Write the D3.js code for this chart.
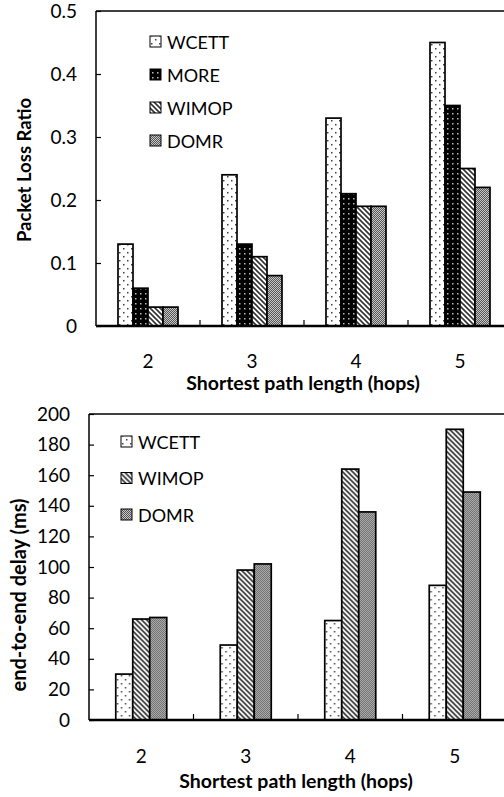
<!DOCTYPE html>
<html>
<head>
  <script src="https://d3js.org/d3.v7.min.js"></script>
  <style>
    body { margin: 0; background: #fff; }
    svg { display: block; font-family: Lato, "Open Sans", sans-serif; }
  </style>
</head>
<body>
  <div id="chart"></div>
  <script>
    // data
    const hops = ["2", "3", "4", "5"];

    const lossSeries = ["WCETT", "MORE", "WIMOP", "DOMR"];
    const lossWCETT = [0.13, 0.24, 0.33, 0.45];
    const lossMORE = [0.06, 0.13, 0.21, 0.35];
    const lossWIMOP = [0.03, 0.11, 0.19, 0.25];
    const lossDOMR = [0.03, 0.08, 0.19, 0.22];
    const lossTicks = [0, 0.1, 0.2, 0.3, 0.4, 0.5];

    const delaySeries = ["WCETT", "WIMOP", "DOMR"];
    const delayWCETT = [30, 49, 65, 88];
    const delayWIMOP = [66, 98, 164, 190];
    const delayDOMR = [67, 102, 136, 149];
    const delayTicks = [0, 20, 40, 60, 80, 100, 120, 140, 160, 180, 200];

    const svg = d3.select("#chart").append("svg")
      .attr("width", 504)
      .attr("height", 797);

    // fill patterns for each series
    const defs = svg.append("defs");

    const pDots = defs.append("pattern").attr("id", "pat-WCETT")
      .attr("patternUnits", "userSpaceOnUse").attr("width", 8).attr("height", 8);
    pDots.append("rect").attr("width", 8).attr("height", 8).attr("fill", "#fff");
    pDots.append("rect").attr("x", 1).attr("y", 1).attr("width", 1.5).attr("height", 1.5).attr("fill", "#444");
    pDots.append("rect").attr("x", 5).attr("y", 5).attr("width", 1.5).attr("height", 1.5).attr("fill", "#444");

    const pMore = defs.append("pattern").attr("id", "pat-MORE")
      .attr("patternUnits", "userSpaceOnUse").attr("width", 5).attr("height", 5);
    pMore.append("rect").attr("width", 5).attr("height", 5).attr("fill", "#000");
    pMore.append("rect").attr("x", 2).attr("y", 2).attr("width", 1.5).attr("height", 1.5).attr("fill", "#bbb");

    const pStripe = defs.append("pattern").attr("id", "pat-WIMOP")
      .attr("patternUnits", "userSpaceOnUse").attr("width", 5).attr("height", 5);
    pStripe.append("rect").attr("width", 5).attr("height", 5).attr("fill", "#fff");
    pStripe.append("path").attr("d", "M-1,-1 L6,6 M-1,4 L1,6 M4,-1 L6,1")
      .attr("stroke", "#333").attr("stroke-width", 1.6);

    const pChk = defs.append("pattern").attr("id", "pat-DOMR")
      .attr("patternUnits", "userSpaceOnUse").attr("width", 2).attr("height", 2);
    pChk.append("rect").attr("width", 2).attr("height", 2).attr("fill", "#c8c8c8");
    pChk.append("rect").attr("width", 1).attr("height", 1).attr("fill", "#555");
    pChk.append("rect").attr("x", 1).attr("y", 1).attr("width", 1).attr("height", 1).attr("fill", "#555");

    function drawPanel(opt) {
      const g = svg.append("g").attr("transform", `translate(${opt.left},${opt.top})`);
      const width = opt.width, height = opt.height;

      const x = d3.scaleBand().domain(hops).range([0, width]).padding(0);
      const x1 = d3.scaleBand().domain(opt.series).range([0, opt.groupWidth]).padding(0);
      const y = d3.scaleLinear().domain([0, opt.max]).range([height, 0]);

      // plot frame: top border
      g.append("line").attr("x1", 0).attr("x2", width).attr("y1", 0).attr("y2", 0)
        .attr("stroke", "#000").attr("stroke-width", 1.5);

      // bars
      const rows = hops.map((h, i) => {
        const r = { hop: h };
        opt.series.forEach((s, j) => r[s] = opt.values[j][i]);
        return r;
      });
      const grp = g.selectAll(".grp").data(rows).enter().append("g")
        .attr("transform", d => `translate(${x(d.hop) + (x.bandwidth() - opt.groupWidth) / 2},0)`);
      grp.selectAll("rect")
        .data(d => opt.series.map(s => ({ key: s, value: d[s] })))
        .enter().append("rect")
        .attr("x", d => x1(d.key))
        .attr("y", d => y(d.value))
        .attr("width", x1.bandwidth())
        .attr("height", d => height - y(d.value))
        .attr("fill", d => `url(#pat-${d.key})`)
        .attr("stroke", "#000")
        .attr("stroke-width", 1.7);

      // y axis, ticks pointing inward
      const yAxis = g.append("g")
        .call(d3.axisRight(y).tickValues(opt.ticks).tickSize(5).tickFormat(opt.fmt));
      yAxis.select(".domain").attr("stroke-width", 1.5).attr("d", `M0,0V${height}`);
      yAxis.selectAll("line").attr("stroke-width", 1.2);
      yAxis.attr("font-family", null).attr("font-size", null);
      yAxis.selectAll("text")
        .attr("x", -19).attr("text-anchor", "end")
        .attr("font-size", 19).attr("fill", "#000");

      // x axis with small ticks between categories
      const xa = g.append("g").attr("transform", `translate(0,${height})`);
      xa.append("line").attr("x1", 0).attr("x2", width).attr("stroke", "#000").attr("stroke-width", 2.5);
      xa.selectAll(".sep").data(hops.slice(1)).enter().append("line")
        .attr("x1", d => x(d)).attr("x2", d => x(d))
        .attr("y1", 0).attr("y2", -6)
        .attr("stroke", "#000").attr("stroke-width", 1.2);
      xa.selectAll(".lab").data(hops).enter().append("text")
        .attr("x", d => x(d) + x.bandwidth() / 2)
        .attr("y", opt.tickLabelY)
        .attr("text-anchor", "middle")
        .attr("font-size", 19)
        .text(d => d);

      // axis titles
      xa.append("text")
        .attr("x", width / 2 - opt.titleShift)
        .attr("y", opt.xTitleY)
        .attr("text-anchor", "middle")
        .attr("font-size", 19.5).attr("font-weight", "bold")
        .text("Shortest path length (hops)");
      g.append("text")
        .attr("transform", `translate(${opt.yTitleX},${opt.yTitleY}) rotate(-90)`)
        .attr("text-anchor", "middle")
        .attr("font-size", opt.yTitleSize).attr("font-weight", "bold")
        .text(opt.yTitle);

      // legend
      const lg = g.selectAll(".leg").data(opt.series).enter().append("g")
        .attr("transform", (d, i) => `translate(${opt.legX},${opt.legY + i * opt.legStep})`);
      lg.append("rect").attr("x", 0).attr("y", -6).attr("width", 11).attr("height", 11)
        .attr("fill", d => `url(#pat-${d})`).attr("stroke", "#000").attr("stroke-width", 1);
      lg.append("text").attr("x", 17).attr("y", 6.5).attr("font-size", 18).text(d => d);
    }

    drawPanel({
      left: 96, top: 11, width: 416, height: 315,
      series: lossSeries,
      values: [lossWCETT, lossMORE, lossWIMOP, lossDOMR],
      max: 0.5, ticks: lossTicks, fmt: d => d === 0 ? "0" : d3.format(".1f")(d),
      groupWidth: 60,
      tickLabelY: 42, xTitleY: 64, titleShift: 1,
      yTitle: "Packet Loss Ratio", yTitleX: -65, yTitleY: 159, yTitleSize: 18.5,
      legX: 54, legY: 31, legStep: 33
    });

    drawPanel({
      left: 89, top: 414, width: 418, height: 306,
      series: delaySeries,
      values: [delayWCETT, delayWIMOP, delayDOMR],
      max: 200, ticks: delayTicks, fmt: d => d,
      groupWidth: 51,
      tickLabelY: 43, xTitleY: 68, titleShift: 2,
      yTitle: "end-to-end delay (ms)", yTitleX: -63, yTitleY: 181, yTitleSize: 20,
      legX: 32, legY: 28, legStep: 36.5
    });
  </script>
</body>
</html>
